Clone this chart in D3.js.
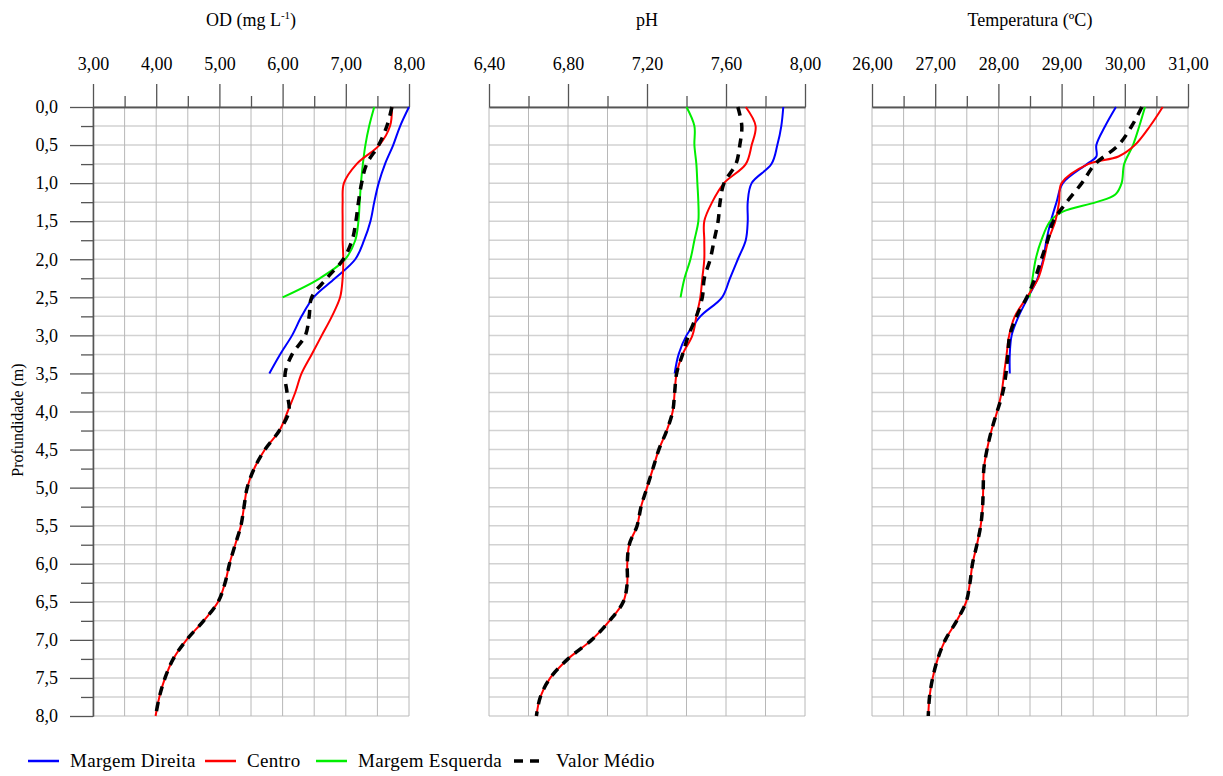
<!DOCTYPE html>
<html>
<head>
<meta charset="utf-8">
<script src="https://cdn.jsdelivr.net/npm/d3@7"></script>
<style>
  body { margin: 0; background: #fff; }
  text { font-family: "Liberation Serif", "Times New Roman", serif; fill: #000; }
</style>
</head>
<body>
<div id="vis"></div>
<script>
// depth (m) for each profile
var depthFull = [0, 0.25, 0.5, 0.75, 1, 1.25, 1.5, 1.75, 2, 2.25, 2.5, 2.75, 3, 3.25, 3.5, 3.75,
                 4, 4.25, 4.5, 4.75, 5, 5.25, 5.5, 5.75, 6, 6.25, 6.5, 6.75, 7, 7.25, 7.5, 7.75, 8];
var depthDireita = [0, 0.25, 0.5, 0.75, 1, 1.25, 1.5, 1.75, 2, 2.25, 2.5, 2.75, 3, 3.25, 3.5];
var depthEsquerda = [0, 0.25, 0.5, 0.75, 1, 1.25, 1.5, 1.75, 2, 2.25, 2.5];

// OD (mg/L)
var odDireita = [8.00, 7.86, 7.75, 7.62, 7.52, 7.45, 7.39, 7.29, 7.15, 6.83, 6.49, 6.30, 6.15, 5.96, 5.79];
var odEsquerda = [7.45, 7.37, 7.31, 7.27, 7.24, 7.22, 7.20, 7.15, 6.99, 6.59, 6.00];
var odCentro = [7.73, 7.70, 7.53, 7.17, 6.97, 6.95, 6.95, 6.95, 6.96, 6.95, 6.91, 6.78, 6.62, 6.46, 6.30, 6.20,
                6.08, 5.95, 5.72, 5.55, 5.44, 5.39, 5.34, 5.25, 5.16, 5.09, 4.98, 4.75, 4.48, 4.27, 4.14, 4.05, 3.99];
var odMedio = [7.73, 7.65, 7.52, 7.33, 7.25, 7.20, 7.16, 7.10, 6.96, 6.70, 6.46, 6.42, 6.36, 6.15, 6.04, 6.07,
               6.10, 5.95, 5.72, 5.55, 5.44, 5.39, 5.34, 5.25, 5.16, 5.09, 4.98, 4.75, 4.48, 4.27, 4.14, 4.05, 3.99];

// pH
var phDireita = [7.89, 7.88, 7.86, 7.83, 7.73, 7.71, 7.71, 7.70, 7.66, 7.62, 7.58, 7.47, 7.40, 7.36, 7.34];
var phEsquerda = [7.40, 7.44, 7.44, 7.45, 7.455, 7.46, 7.46, 7.44, 7.42, 7.39, 7.37];
var phCentro = [7.70, 7.75, 7.73, 7.70, 7.59, 7.53, 7.49, 7.49, 7.49, 7.48, 7.47, 7.45, 7.43, 7.38, 7.35, 7.34,
                7.33, 7.30, 7.26, 7.23, 7.20, 7.17, 7.15, 7.11, 7.10, 7.10, 7.08, 7.01, 6.92, 6.80, 6.71, 6.66, 6.64];
var phMedio = [7.66, 7.68, 7.67, 7.65, 7.59, 7.57, 7.56, 7.54, 7.52, 7.49, 7.48, 7.45, 7.41, 7.38, 7.35, 7.34,
               7.33, 7.30, 7.26, 7.23, 7.20, 7.17, 7.15, 7.11, 7.10, 7.10, 7.08, 7.01, 6.92, 6.80, 6.71, 6.66, 6.64];

// Temperatura (C)
var tDepthDireita = [0, 0.25, 0.5, 0.65, 0.75, 1, 1.25, 1.5, 1.75, 2, 2.25, 2.5, 2.75, 3, 3.25, 3.5];
var tDireita = [29.86, 29.69, 29.55, 29.55, 29.40, 29.02, 28.92, 28.83, 28.76, 28.71, 28.62, 28.47, 28.32, 28.21, 28.18, 28.18];
var tDepthEsquerda = [0, 0.25, 0.5, 0.75, 1, 1.15, 1.25, 1.375, 1.5, 1.75, 2, 2.25, 2.5];
var tEsquerda = [30.32, 30.23, 30.13, 29.99, 29.95, 29.85, 29.55, 29.02, 28.82, 28.68, 28.59, 28.54, 28.49];
var tDepthCentro = [0, 0.25, 0.5, 0.65, 0.75, 1, 1.25, 1.5, 1.75, 2, 2.25, 2.5, 2.75, 3, 3.25, 3.5, 3.75,
                    4, 4.25, 4.5, 4.75, 5, 5.25, 5.5, 5.75, 6, 6.25, 6.5, 6.75, 7, 7.25, 7.5, 7.75, 8];
var tCentro = [30.60, 30.40, 30.16, 29.90, 29.42, 29.00, 28.96, 28.90, 28.79, 28.72, 28.63, 28.45, 28.26, 28.17, 28.13, 28.09, 28.05,
               27.98, 27.89, 27.82, 27.77, 27.76, 27.75, 27.72, 27.66, 27.59, 27.55, 27.49, 27.34, 27.16, 27.04, 26.96, 26.91, 26.89];
var tMedio = [30.27, 30.11, 29.90, 29.53, 29.32, 29.08, 28.87, 28.78, 28.68, 28.58, 28.45, 28.29, 28.18, 28.15, 28.12, 28.07,
              27.98, 27.89, 27.82, 27.77, 27.76, 27.75, 27.72, 27.66, 27.59, 27.55, 27.49, 27.34, 27.16, 27.04, 26.96, 26.91, 26.89];

// axis ticks
var odTicks = [3, 4, 5, 6, 7, 8];
var phTicks = [6.4, 6.8, 7.2, 7.6, 8.0];
var tTicks = [26, 27, 28, 29, 30, 31];
var depthTicks = [0, 0.5, 1, 1.5, 2, 2.5, 3, 3.5, 4, 4.5, 5, 5.5, 6, 6.5, 7, 7.5, 8];

var seriesNames = ["Margem Direita", "Centro", "Margem Esquerda", "Valor Médio"];
var seriesColors = ["#0000ff", "#ff0000", "#00ee00", "#000000"];

var width = 1223;
var height = 776;
var serif = '"Liberation Serif", "Times New Roman", serif';

var svg = d3.select("#vis")
            .append("svg")
            .attr("width", width)
            .attr("height", height);

var y = d3.scaleLinear().domain([0, 8]).range([107, 716]);

var fmtX = function(d) { return d3.format(".2f")(d).replace(".", ","); };
var fmtY = function(d) { return d3.format(".1f")(d).replace(".", ","); };

function zip(ds, vs) {
  return ds.map(function(d, i) { return {d: d, v: vs[i]}; });
}

function styleAxis(a) {
  a.attr("font-family", serif).attr("font-size", 18);
  a.selectAll("path, line").attr("stroke", "#555").attr("stroke-width", 1.3);
  a.selectAll("text").attr("fill", "#000");
}

var panels = [
  { title: "OD", x0: 93, x1: 409, domain: [3, 8], major: odTicks, step: 0.5,
    series: [zip(depthDireita, odDireita), zip(depthFull, odCentro), zip(depthEsquerda, odEsquerda), zip(depthFull, odMedio)] },
  { title: "pH", x0: 489, x1: 805, domain: [6.4, 8.0], major: phTicks, step: 0.2,
    series: [zip(depthDireita, phDireita), zip(depthFull, phCentro), zip(depthEsquerda, phEsquerda), zip(depthFull, phMedio)] },
  { title: "Temperatura (ºC)", x0: 872, x1: 1188, domain: [26, 31], major: tTicks, step: 0.5,
    series: [zip(tDepthDireita, tDireita), zip(tDepthCentro, tCentro), zip(tDepthEsquerda, tEsquerda), zip(depthFull, tMedio)] }
];

var hGrid = d3.range(0, 8.001, 0.25);

panels.forEach(function(p, pi) {
  var x = d3.scaleLinear().domain(p.domain).range([p.x0, p.x1]);
  var n = Math.round((p.domain[1] - p.domain[0]) / p.step);
  var vGrid = d3.range(0, n + 1).map(function(i) { return p.domain[0] + i * p.step; });
  var minor = vGrid.filter(function(v, i) { return i % 2 == 1; });
  var g = svg.append("g");

  g.selectAll(".hg").data(hGrid).enter().append("line")
      .attr("x1", p.x0).attr("x2", p.x1)
      .attr("y1", function(d) { return y(d); }).attr("y2", function(d) { return y(d); })
      .attr("stroke", "#d2d2d2")
      .attr("stroke-width", 1.5);

  g.selectAll(".vg").data(vGrid).enter().append("line")
      .attr("x1", function(d) { return x(d); }).attr("x2", function(d) { return x(d); })
      .attr("y1", y(0)).attr("y2", y(8))
      .attr("stroke", "#b8b8b8")
      .attr("stroke-width", 1);

  var axMajor = g.append("g")
      .attr("transform", "translate(0," + y(0) + ")")
      .call(d3.axisTop(x).tickValues(p.major).tickSize(23).tickSizeOuter(0).tickPadding(14).tickFormat(fmtX));
  var axMinor = g.append("g")
      .attr("transform", "translate(0," + y(0) + ")")
      .call(d3.axisTop(x).tickValues(minor).tickSize(11).tickSizeOuter(0).tickFormat(""));
  styleAxis(axMajor);
  styleAxis(axMinor);

  var t = g.append("text")
      .attr("x", (p.x0 + p.x1) / 2)
      .attr("y", 26)
      .attr("text-anchor", "middle")
      .style("font-size", "18px")
      .text(p.title);
  if (pi == 0) {
    t.text("OD (mg L");
    t.append("tspan").text("-1").style("font-size", "11px").attr("dy", -7);
    t.append("tspan").text(")").attr("dy", 7);
  }

  var line = d3.line()
      .x(function(d) { return x(d.v); })
      .y(function(d) { return y(d.d); })
      .curve(d3.curveCatmullRom.alpha(0.5));

  [0, 2, 1, 3].forEach(function(si) {
    g.append("path")
        .attr("d", line(p.series[si]))
        .attr("fill", "none")
        .attr("stroke", seriesColors[si])
        .attr("stroke-width", si == 3 ? 3.5 : 2)
        .attr("stroke-dasharray", si == 3 ? "9,7" : null);
  });
});

// depth axis on the first panel
var yMinor = d3.range(0.25, 8, 0.5);
var yAx = svg.append("g")
    .attr("transform", "translate(93,0)")
    .call(d3.axisLeft(y).tickValues(depthTicks).tickSize(23).tickSizeOuter(0).tickPadding(12).tickFormat(fmtY));
var yAxMinor = svg.append("g")
    .attr("transform", "translate(93,0)")
    .call(d3.axisLeft(y).tickValues(yMinor).tickSize(12).tickSizeOuter(0).tickFormat(""));
styleAxis(yAx);
styleAxis(yAxMinor);

svg.append("text")
    .attr("transform", "translate(23,420) rotate(-90)")
    .attr("text-anchor", "middle")
    .style("font-size", "16px")
    .text("Profundidade (m)");

// legend
var legendX = [28, 205, 316, 514];
seriesNames.forEach(function(name, i) {
  svg.append("line")
      .attr("x1", legendX[i]).attr("x2", legendX[i] + 31)
      .attr("y1", 761).attr("y2", 761)
      .attr("stroke", seriesColors[i])
      .attr("stroke-width", i == 3 ? 3.5 : 2.5)
      .attr("stroke-dasharray", i == 3 ? "9,7" : null);
  svg.append("text")
      .attr("x", legendX[i] + 42)
      .attr("y", 767)
      .style("font-size", "19px")
      .style("letter-spacing", "0.3px")
      .text(name);
});
</script>
</body>
</html>
